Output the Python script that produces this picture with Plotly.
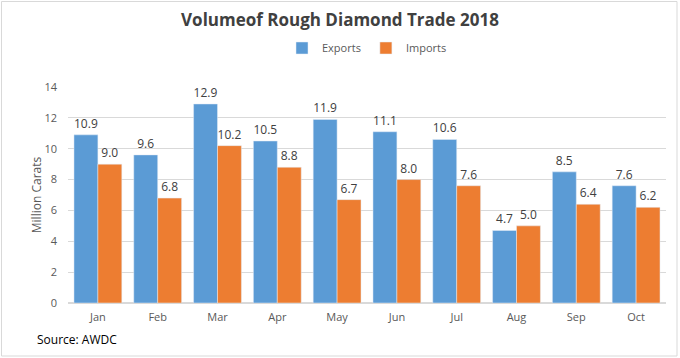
import plotly.graph_objects as go

months = ["Jan", "Feb", "Mar", "Apr", "May", "Jun", "Jul", "Aug", "Sep", "Oct"]
exports = [10.9, 9.6, 12.9, 10.5, 11.9, 11.1, 10.6, 4.7, 8.5, 7.6]
imports = [9.0, 6.8, 10.2, 8.8, 6.7, 8.0, 7.6, 5.0, 6.4, 6.2]

font = "Open Sans"
fig = go.Figure()
fig.add_trace(go.Bar(x=months, y=exports, name="Exports", marker_color="#5B9BD5",
                     text=[f"{v:.1f}" for v in exports], textposition="outside",
                     textfont=dict(size=12, color="#404040"), cliponaxis=False))
fig.add_trace(go.Bar(x=months, y=imports, name="Imports", marker_color="#ED7D31",
                     text=[f"{v:.1f}" for v in imports], textposition="outside",
                     textfont=dict(size=12, color="#404040"), cliponaxis=False))

fig.update_layout(
    width=680, height=358,
    margin=dict(l=68, r=14, t=87, b=55, autoexpand=False),
    paper_bgcolor="white", plot_bgcolor="white",
    font=dict(family=font, size=11, color="#595959"),
    barmode="group", bargap=0.2, bargroupgap=0,
    title=dict(text="<b>Volumeof Rough Diamond Trade 2018</b>", x=0.5, xanchor="center",
               y=1 - 20 / 358, yanchor="middle",
               font=dict(family=font, size=17, color="#404040")),
    legend=dict(orientation="h", x=0.5, xanchor="center", y=1 + (87 - 48) / 216, yanchor="middle",
                font=dict(size=11, color="#595959"), itemwidth=30, traceorder="normal"),
    showlegend=True,
)
fig.update_xaxes(showgrid=False, ticks="", tickfont=dict(size=11, color="#595959"), showline=False,
                 ticklabelstandoff=6)
fig.update_yaxes(range=[0, 14], dtick=2, showgrid=True, gridcolor="#D9D9D9", zeroline=True,
                 zerolinecolor="#D9D9D9", tickfont=dict(size=11, color="#595959"),
                 ticklabelstandoff=10,
                 title=dict(text="Million Carats", font=dict(size=12, color="#595959"), standoff=0))

fig.add_annotation(text="Source: AWDC", xref="paper", yref="paper", x=(35 - 68) / 598,
                   y=(303 - 339) / 216, xanchor="left", yanchor="middle", showarrow=False,
                   font=dict(family=font, size=12, color="#000000"))
fig.add_shape(type="rect", xref="paper", yref="paper", x0=(1.5 - 68) / 598, x1=(677 - 68) / 598,
              y0=(303 - 356) / 216, y1=(303 - 1.5) / 216, line=dict(color="#D9D9D9", width=1))

fig.write_html("out.html", config={"displayModeBar": False},
               post_script="document.body.style.margin='0';document.body.style.overflow='hidden';")
